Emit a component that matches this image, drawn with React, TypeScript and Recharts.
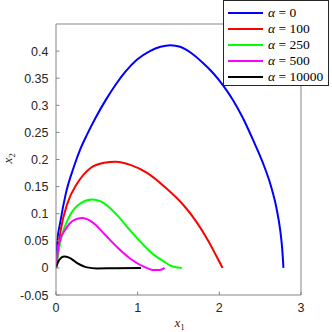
import {
  LineChart,
  Line,
  XAxis,
  YAxis,
  Legend,
} from "recharts";

// alpha values shown in the legend
const alphas = [0, 100, 250, 500, 10000];
const colors = ["#0000ff", "#ff0000", "#00ff00", "#ff00ff", "#000000"];

// trajectories, [x1, x2]
const alpha0 = [
  [0, 0], [0.008, 0.038], [0.057, 0.088], [0.12, 0.137], [0.22, 0.187],
  [0.3, 0.22], [0.38, 0.246], [0.485, 0.277], [0.61, 0.31], [0.73, 0.338],
  [0.85, 0.362], [0.99, 0.384], [1.15, 0.4], [1.28, 0.408], [1.4, 0.411],
  [1.52, 0.408], [1.66, 0.396], [1.8, 0.378], [1.92, 0.36], [2.05, 0.336],
  [2.17, 0.309], [2.29, 0.276], [2.41, 0.237], [2.53, 0.195], [2.63, 0.152],
  [2.7, 0.11], [2.745, 0.07], [2.77, 0.035], [2.785, 0],
];
const alpha100 = [
  [0, 0], [0.057, 0.069], [0.14, 0.119], [0.26, 0.156], [0.42, 0.184],
  [0.59, 0.194], [0.73, 0.196], [0.91, 0.19], [1.12, 0.175], [1.35, 0.147],
  [1.56, 0.116], [1.72, 0.085], [1.86, 0.051], [1.96, 0.023], [2.04, 0],
];
const alpha250 = [
  [0, 0], [0.057, 0.051], [0.16, 0.094], [0.3, 0.119], [0.44, 0.126],
  [0.59, 0.119], [0.75, 0.097], [0.91, 0.069], [1.08, 0.041], [1.2, 0.024],
  [1.32, 0.012], [1.42, 0.003], [1.54, 0],
];
const alpha500 = [
  [0, 0], [0.037, 0.045], [0.12, 0.072], [0.22, 0.088], [0.32, 0.092],
  [0.44, 0.085], [0.59, 0.063], [0.75, 0.038], [0.91, 0.017], [1.08, 0.002],
  [1.2, -0.004], [1.27, -0.004], [1.33, 0],
];
const alpha10000 = [
  [0, 0], [0.037, 0.014], [0.1, 0.021], [0.16, 0.019], [0.26, 0.009],
  [0.38, 0.001], [0.5, -0.001], [0.71, -0.0005], [1.04, 0],
];

const xTicks = [0, 1, 2, 3];
const yTicks = [-0.05, 0, 0.05, 0.1, 0.15, 0.2, 0.25, 0.3, 0.35, 0.4];

const series = [alpha0, alpha100, alpha250, alpha500, alpha10000].map((pts, i) => ({
  name: `alpha-${alphas[i]}`,
  alpha: alphas[i],
  color: colors[i],
  data: pts.map(([x, y]) => ({ x, y })),
}));

const axisColor = "#858585";
const textColor = "#262626";
const tickFont = "'Liberation Sans', Arial, sans-serif";
const mathFont = "'Liberation Serif', 'Times New Roman', serif";

const BottomTick = ({ x, y, payload }: any) => (
  <g>
    <line x1={x} y1={y} x2={x} y2={y - 3.5} stroke={axisColor} />
    <text x={x} y={y + 17} textAnchor="middle" fontSize={12.5} fontFamily={tickFont} fill={textColor}>
      {String(payload.value)}
    </text>
  </g>
);

const LeftTick = ({ x, y, payload }: any) => (
  <g>
    <line x1={x} y1={y} x2={x + 3.5} y2={y} stroke={axisColor} />
    <text x={x - 7.5} y={y + 4.5} textAnchor="end" fontSize={12.5} fontFamily={tickFont} fill={textColor}>
      {String(payload.value)}
    </text>
  </g>
);

const XLabel = ({ viewBox }: any) => {
  const cx = viewBox.x + viewBox.width / 2;
  return (
    <text x={cx - 4} y={viewBox.y + 32} fontFamily={mathFont} fontSize={13} fill={textColor}>
      <tspan fontStyle="italic">x</tspan>
      <tspan dy={3} fontSize={9}>1</tspan>
    </text>
  );
};

const YLabel = ({ viewBox }: any) => {
  const cy = viewBox.y + viewBox.height / 2;
  return (
    <text
      x={0}
      y={0}
      transform={`translate(12, ${cy + 4}) rotate(-90)`}
      fontFamily={mathFont}
      fontSize={13}
      fill={textColor}
    >
      <tspan fontStyle="italic">x</tspan>
      <tspan dy={3} fontSize={9}>2</tspan>
    </text>
  );
};

const LegendBox = () => (
  <div
    style={{
      width: 106,
      height: 86,
      border: "1px solid #262626",
      background: "#fff",
      boxSizing: "border-box",
      paddingTop: 4,
    }}
  >
    {series.map((s) => (
      <div key={s.name} style={{ display: "flex", alignItems: "center", height: 16 }}>
        <div style={{ width: 35, height: 2, background: s.color, marginLeft: 4 }} />
        <span
          style={{
            marginLeft: 5,
            fontFamily: mathFont,
            fontSize: 13.5,
            color: "#000",
            whiteSpace: "pre",
            lineHeight: "16px",
          }}
        >
          <i>α</i> = {s.alpha}
        </span>
      </div>
    ))}
  </div>
);

export default function App() {
  return (
    <div style={{ position: "absolute", left: 0, top: 0 }}>
      <LineChart
        width={332}
        height={332}
        margin={{ top: 24, right: 31, bottom: 0, left: 0 }}
      >
        <XAxis
          type="number"
          dataKey="x"
          domain={[0, 3]}
          ticks={xTicks}
          allowDataOverflow
          height={37}
          stroke={axisColor}
          tickLine={false}
          tickSize={0}
          tickMargin={0}
          tick={<BottomTick />}
          label={<XLabel />}
        />
        <XAxis
          xAxisId="top"
          orientation="top"
          type="number"
          dataKey="x"
          domain={[0, 3]}
          ticks={xTicks}
          mirror
          stroke={axisColor}
          tickSize={3.5}
          tick={false}
        />
        <YAxis
          type="number"
          dataKey="y"
          domain={[-0.05, 0.45]}
          ticks={yTicks}
          allowDataOverflow
          width={56}
          stroke={axisColor}
          tickLine={false}
          tickSize={0}
          tickMargin={0}
          tick={<LeftTick />}
          label={<YLabel />}
        />
        <YAxis
          yAxisId="right"
          orientation="right"
          type="number"
          domain={[-0.05, 0.45]}
          ticks={yTicks}
          mirror
          stroke={axisColor}
          tickSize={3.5}
          tick={false}
        />
        <Legend
          layout="vertical"
          align="center"
          verticalAlign="middle"
          wrapperStyle={{ top: 0, left: 223, width: 106 }}
          content={<LegendBox />}
        />
        {series.map((s) => (
          <Line
            key={s.name}
            name={s.name}
            data={s.data}
            dataKey="y"
            type="monotone"
            stroke={s.color}
            strokeWidth={2}
            dot={false}
            activeDot={false}
            isAnimationActive={false}
          />
        ))}
      </LineChart>
    </div>
  );
}
